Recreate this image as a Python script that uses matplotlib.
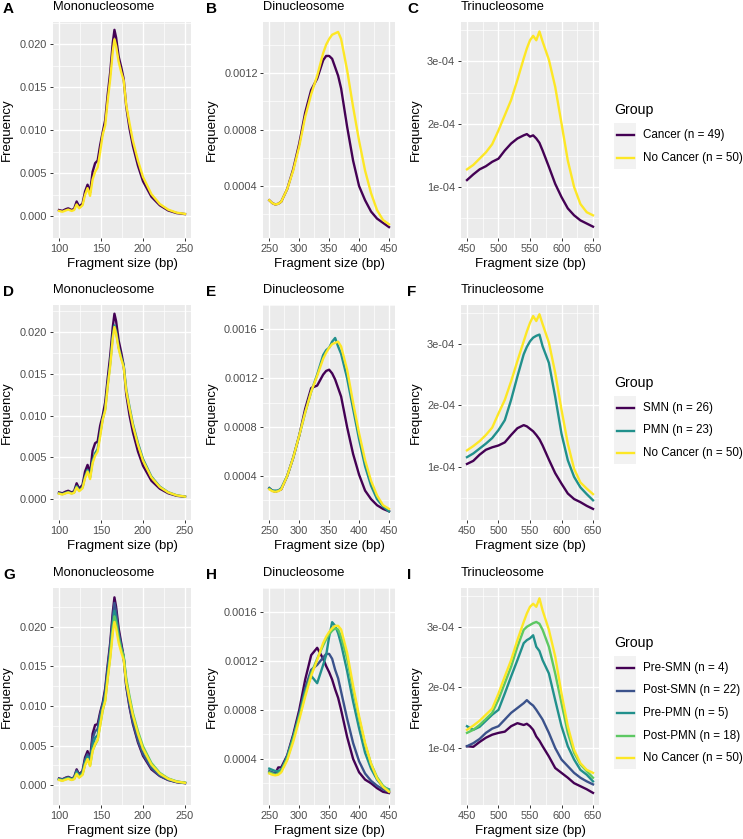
import numpy as np
import matplotlib.pyplot as plt
from matplotlib.lines import Line2D
from matplotlib.patches import Rectangle

plt.rcParams['font.family'] = ['Liberation Sans', 'DejaVu Sans']

# ---- data ----
# mononucleosome, values in 1e-3
mono_x = [100, 104, 108, 111, 115, 118, 121, 124, 128, 131, 134, 137, 140, 143, 146, 149, 152, 155,
          158, 161, 164, 166, 168, 171, 174, 177, 180, 184, 188, 194, 200, 210, 220, 230, 240, 250]
mono_nocancer = [0.65, 0.55, 0.7, 0.8, 0.65, 0.75, 1.4, 0.95, 1.3, 2.5, 3.3, 2.4, 4.3, 5.2, 5.7, 7.5, 9.5, 10.6,
                 13.5, 16.0, 19.2, 20.6, 19.8, 18.0, 16.8, 15.8, 13.0, 10.8, 8.8, 6.5, 4.6, 2.6, 1.45, 0.8, 0.45, 0.3]
mono_cancer = [0.75, 0.65, 0.85, 0.95, 0.75, 0.9, 1.75, 1.15, 1.5, 2.9, 3.7, 2.8, 5.2, 6.2, 6.5, 8.3, 9.8, 11.2,
               14.2, 16.8, 20.2, 21.7, 20.8, 18.6, 17.4, 16.0, 12.8, 10.2, 8.2, 5.9, 4.1, 2.3, 1.3, 0.7, 0.4, 0.28]
mono_smn = [0.8, 0.7, 0.9, 1.0, 0.8, 0.95, 1.9, 1.25, 1.7, 3.3, 4.1, 3.1, 5.8, 6.7, 6.9, 8.8, 10.0, 11.6,
            14.5, 17.2, 20.6, 22.2, 21.3, 19.0, 17.6, 16.0, 12.6, 10.0, 8.0, 5.7, 4.0, 2.2, 1.25, 0.7, 0.4, 0.28]
mono_pmn = [0.7, 0.6, 0.75, 0.85, 0.7, 0.8, 1.55, 1.05, 1.4, 2.7, 3.5, 2.6, 4.6, 5.5, 6.0, 7.8, 9.6, 10.8,
            13.7, 16.3, 19.6, 20.8, 20.1, 18.2, 17.0, 16.0, 13.2, 11.0, 9.0, 6.7, 4.8, 2.7, 1.5, 0.82, 0.46, 0.3]
mono_pre_smn = [0.85, 0.75, 0.95, 1.05, 0.85, 1.0, 2.0, 1.35, 1.8, 3.5, 4.3, 3.3, 6.5, 7.6, 7.7, 9.2, 10.4, 12.2,
                15.2, 18.0, 21.8, 23.7, 22.5, 19.8, 18.0, 16.2, 12.5, 9.8, 7.7, 5.4, 3.7, 2.0, 1.15, 0.65, 0.38, 0.26]
mono_post_smn = [0.8, 0.7, 0.9, 1.0, 0.8, 0.95, 1.85, 1.25, 1.7, 3.2, 3.9, 3.0, 5.9, 6.8, 7.1, 8.9, 10.2, 11.8,
                 14.8, 17.6, 21.2, 23.0, 21.9, 19.3, 17.7, 16.0, 12.6, 10.0, 7.9, 5.6, 3.9, 2.15, 1.2, 0.68, 0.4, 0.27]
mono_pre_pmn = [0.75, 0.65, 0.8, 0.9, 0.75, 0.85, 1.65, 1.1, 1.5, 2.9, 3.6, 2.8, 5.0, 6.0, 6.3, 8.2, 9.8, 11.2,
                14.0, 16.8, 20.3, 22.0, 21.0, 18.8, 17.3, 16.2, 13.2, 10.8, 8.8, 6.4, 4.5, 2.5, 1.4, 0.78, 0.45, 0.3]
mono_post_pmn = [0.7, 0.6, 0.75, 0.85, 0.7, 0.8, 1.5, 1.0, 1.4, 2.6, 3.3, 2.5, 4.4, 5.1, 5.7, 7.6, 9.4, 10.7,
                 13.6, 16.3, 19.8, 21.3, 20.5, 18.5, 17.2, 16.3, 13.5, 11.2, 9.1, 6.8, 4.9, 2.8, 1.55, 0.85, 0.48, 0.31]

# dinucleosome, values in 1e-4
di_x = [250, 255, 260, 265, 270, 280, 290, 300, 310, 320, 330, 340, 345, 350, 355, 360, 365, 370,
        380, 390, 400, 410, 420, 430, 440, 450]
di_nocancer_1 = [3.0, 2.8, 2.7, 2.75, 2.9, 3.8, 5.1, 6.8, 8.9, 10.5, 11.8, 13.4, 14.0, 14.4, 14.7, 14.8, 14.9, 14.4,
                 12.2, 9.6, 7.2, 5.1, 3.5, 2.3, 1.6, 1.3]
di_cancer = [3.0, 2.8, 2.7, 2.75, 2.9, 3.8, 5.2, 7.0, 9.2, 10.8, 11.6, 12.9, 13.2, 13.2, 13.0, 12.4, 11.8, 10.9,
             8.2, 5.8, 4.0, 3.0, 2.2, 1.7, 1.4, 1.1]
di_smn = [3.0, 2.8, 2.7, 2.8, 2.9, 4.0, 5.5, 7.3, 9.5, 11.2, 11.4, 12.3, 12.6, 12.7, 12.4, 11.9, 11.2, 10.5,
          8.0, 5.8, 4.1, 2.8, 2.1, 1.6, 1.3, 1.1]
di_pmn = [3.0, 2.8, 2.8, 2.8, 3.0, 4.0, 5.5, 7.3, 9.2, 10.9, 12.3, 13.9, 14.3, 14.5, 15.0, 15.3, 14.6, 14.0,
          12.0, 9.5, 7.0, 4.8, 3.2, 2.1, 1.5, 1.1]
di_nocancer_2 = [2.9, 2.75, 2.7, 2.75, 2.9, 4.0, 5.5, 7.3, 9.2, 10.9, 12.2, 13.6, 14.1, 14.5, 14.8, 14.9, 15.0, 14.6,
                 12.7, 10.0, 7.5, 5.3, 3.6, 2.4, 1.6, 1.3]
di_pre_smn = [2.9, 2.85, 2.8, 3.3, 3.3, 4.3, 6.0, 8.0, 10.5, 12.5, 13.1, 12.2, 11.6, 11.1, 10.5, 9.7, 9.0, 8.0,
              5.8, 4.0, 2.9, 2.3, 2.0, 1.6, 1.3, 1.2]
di_post_smn = [3.0, 2.9, 2.8, 2.9, 3.0, 4.2, 5.8, 7.7, 9.8, 11.3, 11.7, 12.3, 12.6, 12.6, 12.2, 11.3, 10.6, 9.5,
               7.3, 5.3, 3.8, 2.8, 2.2, 1.8, 1.5, 1.3]
di_pre_pmn = [3.2, 3.1, 3.0, 3.0, 3.1, 4.2, 5.8, 7.5, 9.5, 10.8, 10.2, 11.7, 12.5, 14.0, 15.2, 14.9, 14.3, 13.4,
              11.2, 8.7, 6.5, 4.5, 3.2, 2.3, 1.7, 1.5]
di_post_pmn = [2.9, 2.8, 2.7, 2.8, 3.0, 4.0, 5.6, 7.4, 9.3, 11.0, 12.2, 13.3, 13.8, 14.2, 14.5, 14.7, 14.6, 14.0,
               12.2, 9.7, 7.3, 5.2, 3.6, 2.5, 1.8, 1.4]
di_nocancer_3 = [2.8, 2.7, 2.65, 2.7, 2.9, 3.9, 5.4, 7.2, 9.1, 10.8, 12.1, 13.5, 14.0, 14.4, 14.7, 14.9, 14.9, 14.6,
                 12.7, 10.0, 7.5, 5.3, 3.6, 2.4, 1.7, 1.3]

# trinucleosome, values in 1e-4
tri_x = [450, 460, 470, 480, 490, 500, 510, 520, 530, 540, 545, 550, 555, 560, 565, 570,
         580, 590, 600, 610, 620, 630, 640, 650]
tri_nocancer_1 = [1.28, 1.35, 1.45, 1.55, 1.68, 1.9, 2.14, 2.38, 2.7, 3.04, 3.2, 3.33, 3.4, 3.33, 3.47, 3.31,
                  3.02, 2.59, 2.01, 1.42, 1.0, 0.73, 0.6, 0.55]
tri_cancer = [1.11, 1.2, 1.28, 1.33, 1.4, 1.45, 1.58, 1.69, 1.77, 1.82, 1.84, 1.8, 1.82, 1.77, 1.7, 1.58,
              1.32, 1.05, 0.84, 0.66, 0.55, 0.47, 0.42, 0.37]
tri_smn = [1.05, 1.1, 1.2, 1.28, 1.32, 1.35, 1.4, 1.52, 1.63, 1.68, 1.66, 1.62, 1.58, 1.52, 1.45, 1.35,
           1.12, 0.9, 0.73, 0.57, 0.48, 0.43, 0.37, 0.32]
tri_pmn = [1.16, 1.22, 1.3, 1.38, 1.47, 1.6, 1.76, 2.09, 2.47, 2.83, 2.95, 3.04, 3.1, 3.13, 3.15, 2.96,
           2.69, 2.14, 1.54, 1.11, 0.84, 0.67, 0.56, 0.46]
tri_nocancer_2 = [1.27, 1.34, 1.42, 1.52, 1.64, 1.87, 2.09, 2.39, 2.72, 3.04, 3.2, 3.34, 3.45, 3.37, 3.48, 3.32,
                  3.02, 2.53, 1.93, 1.38, 0.97, 0.75, 0.65, 0.56]
tri_pre_smn = [1.03, 1.02, 1.1, 1.17, 1.22, 1.25, 1.27, 1.36, 1.41, 1.38, 1.4, 1.36, 1.3, 1.19, 1.12, 1.03,
               0.86, 0.67, 0.59, 0.51, 0.42, 0.37, 0.32, 0.26]
tri_post_smn = [1.03, 1.08, 1.15, 1.25, 1.32, 1.36, 1.47, 1.58, 1.66, 1.74, 1.79, 1.74, 1.7, 1.63, 1.55, 1.47,
                1.25, 1.0, 0.81, 0.7, 0.59, 0.51, 0.45, 0.4]
tri_pre_pmn = [1.36, 1.3, 1.35, 1.45, 1.55, 1.63, 1.9, 2.18, 2.45, 2.73, 2.78, 2.81, 2.86, 2.67, 2.6, 2.45,
               2.23, 1.79, 1.36, 1.03, 0.81, 0.64, 0.56, 0.45]
tri_post_pmn = [1.25, 1.3, 1.38, 1.48, 1.58, 1.8, 2.07, 2.34, 2.67, 2.95, 3.0, 3.03, 3.06, 3.08, 3.05, 2.95,
                2.67, 2.23, 1.74, 1.25, 0.92, 0.73, 0.62, 0.51]
tri_nocancer_3 = [1.3, 1.37, 1.45, 1.55, 1.65, 1.9, 2.18, 2.45, 2.78, 3.08, 3.22, 3.33, 3.38, 3.33, 3.47, 3.27,
                  2.95, 2.51, 1.9, 1.36, 0.97, 0.75, 0.64, 0.59]

labels_1 = ['Cancer (n = 49)', 'No Cancer (n = 50)']
labels_2 = ['SMN (n = 26)', 'PMN (n = 23)', 'No Cancer (n = 50)']
labels_3 = ['Pre-SMN (n = 4)', 'Post-SMN (n = 22)', 'Pre-PMN (n = 5)', 'Post-PMN (n = 18)', 'No Cancer (n = 50)']
colors_1 = ['#440154', '#FDE725']
colors_2 = ['#440154', '#21908C', '#FDE725']
colors_3 = ['#440154', '#3B528B', '#21908C', '#5DC863', '#FDE725']

mono_yt = [0, 0.005, 0.010, 0.015, 0.020]
mono_yl = ['0.000', '0.005', '0.010', '0.015', '0.020']
di_yt = [0.0004, 0.0008, 0.0012, 0.0016]
di_yl = ['0.0004', '0.0008', '0.0012', '0.0016']
tri_yt = [1e-4, 2e-4, 3e-4]
tri_yl = ['1e-04', '2e-04', '3e-04']

# ---- layout (pixels) ----
W, H = 743, 839
fig = plt.figure(figsize=(W / 100, H / 100), dpi=100)

cols = [(52.7, 191.3), (263.3, 395.0), (460.7, 599.3)]
rows = [(22, 238), (305, 520), (588, 805)]
tag_x = [3, 206, 407]
ylab_x = [7, 212, 416]
txt = '#4D4D4D'
LW = 1.7


def fx(x):
    return x / W


def fy(y):
    return 1 - y / H


def panel(r, c, xs, series, scale, colors, xlim, ylim, xt, yt, yl, title, tag):
    x0, x1 = cols[c]
    top, bot = rows[r]
    ax = fig.add_axes([fx(x0), fy(bot), (x1 - x0) / W, (bot - top) / H])
    ax.set_facecolor('#EBEBEB')
    for ys, col in zip(series, colors):
        ax.plot(xs, np.array(ys) * scale, color=col, lw=LW, solid_joinstyle='round')
    ax.set_xlim(*xlim)
    ax.set_ylim(*ylim)
    ax.set_xticks(xt)
    ax.set_xticklabels([str(v) for v in xt])
    ax.set_yticks(yt)
    ax.set_yticklabels(yl)
    step = xt[1] - xt[0]
    ax.set_xticks([v + step / 2 for v in xt[:-1]], minor=True)
    ystep = yt[1] - yt[0]
    ax.set_yticks([yt[0] - ystep / 2] + [v + ystep / 2 for v in yt], minor=True)
    ax.grid(which='major', color='white', lw=1.0)
    ax.grid(which='minor', color='white', lw=0.5)
    ax.set_axisbelow(True)
    for s in ax.spines.values():
        s.set_visible(False)
    ax.tick_params(which='major', length=2.5, width=0.7, color='#333333', labelsize=7.9,
                   labelcolor=txt, pad=1.5)
    ax.tick_params(which='minor', length=0)
    fig.text(fx(x0), fy(top - 15), title, fontsize=9.3, va='center', ha='left')
    fig.text(fx(tag_x[c]), fy(top - 13), tag, fontsize=11, weight='bold', va='center', ha='left')
    fig.text(fx((x0 + x1) / 2), fy(bot + 26), 'Fragment size (bp)', fontsize=9.5, va='center', ha='center')
    fig.text(fx(ylab_x[c]), fy((top + bot) / 2), 'Frequency', fontsize=9.5, rotation=90,
             va='center', ha='center')
    return ax


def legend(title_y, labels, colors):
    fig.text(fx(614), fy(title_y), 'Group', fontsize=10.2, va='center', ha='left')
    y0 = title_y + 25
    n = len(labels)
    y_last = y0 + 22.5 * (n - 1)
    fig.add_artist(Rectangle((fx(614), fy(y_last + 11)), 22 / W, (y_last + 11 - (y0 - 12)) / H,
                             transform=fig.transFigure, color='#F2F2F2', lw=0))
    for i, (lab, col) in enumerate(zip(labels, colors)):
        y = y0 + 22.5 * i
        fig.add_artist(Line2D([fx(617), fx(634)], [fy(y), fy(y)], transform=fig.transFigure,
                              color=col, lw=LW))
        fig.text(fx(643), fy(y), lab, fontsize=8.4, va='center', ha='left')


mono_xt = [100, 150, 200, 250]
di_xt = [250, 300, 350, 400, 450]
tri_xt = [450, 500, 550, 600, 650]

# row 1
panel(0, 0, mono_x, [mono_cancer, mono_nocancer], 1e-3, colors_1, (92.5, 257.5), (-0.00087, 0.02261),
      mono_xt, mono_yt, mono_yl, 'Mononucleosome', 'A')
panel(0, 1, di_x, [di_cancer, di_nocancer_1], 1e-4, colors_1, (240, 460), (0.000033, 0.00156),
      di_xt, di_yt[:3], di_yl[:3], 'Dinucleosome', 'B')
panel(0, 2, tri_x, [tri_cancer, tri_nocancer_1], 1e-4, colors_1, (440, 660), (0.19e-4, 3.62e-4),
      tri_xt, tri_yt, tri_yl, 'Trinucleosome', 'C')
legend(110, labels_1, colors_1)

# row 2
panel(1, 0, mono_x, [mono_smn, mono_pmn, mono_nocancer], 1e-3, colors_2, (92.5, 257.5), (-0.00078, 0.02324),
      mono_xt, mono_yt, mono_yl, 'Mononucleosome', 'D')
panel(1, 1, di_x, [di_smn, di_pmn, di_nocancer_2], 1e-4, colors_2, (240, 460), (0.000039, 0.00162),
      di_xt, di_yt, di_yl, 'Dinucleosome', 'E')
panel(1, 2, tri_x, [tri_smn, tri_pmn, tri_nocancer_2], 1e-4, colors_2, (440, 660), (0.14e-4, 3.63e-4),
      tri_xt, tri_yt, tri_yl, 'Trinucleosome', 'F')
legend(383, labels_2, colors_2)

# row 3
panel(2, 0, mono_x, [mono_pre_smn, mono_post_smn, mono_pre_pmn, mono_post_pmn, mono_nocancer], 1e-3,
      colors_3, (92.5, 257.5), (-0.00095, 0.02488), mono_xt, mono_yt, mono_yl, 'Mononucleosome', 'G')
panel(2, 1, di_x, [di_pre_smn, di_post_smn, di_pre_pmn, di_post_pmn, di_nocancer_3], 1e-4,
      colors_3, (240, 460), (0.000022, 0.00163), di_xt, di_yt, di_yl, 'Dinucleosome', 'H')
panel(2, 2, tri_x, [tri_pre_smn, tri_post_smn, tri_pre_pmn, tri_post_pmn, tri_nocancer_3], 1e-4,
      colors_3, (440, 660), (0.06e-4, 3.64e-4), tri_xt, tri_yt, tri_yl, 'Trinucleosome', 'I')
legend(643, labels_3, colors_3)

fig.savefig('out.png', dpi=100)
